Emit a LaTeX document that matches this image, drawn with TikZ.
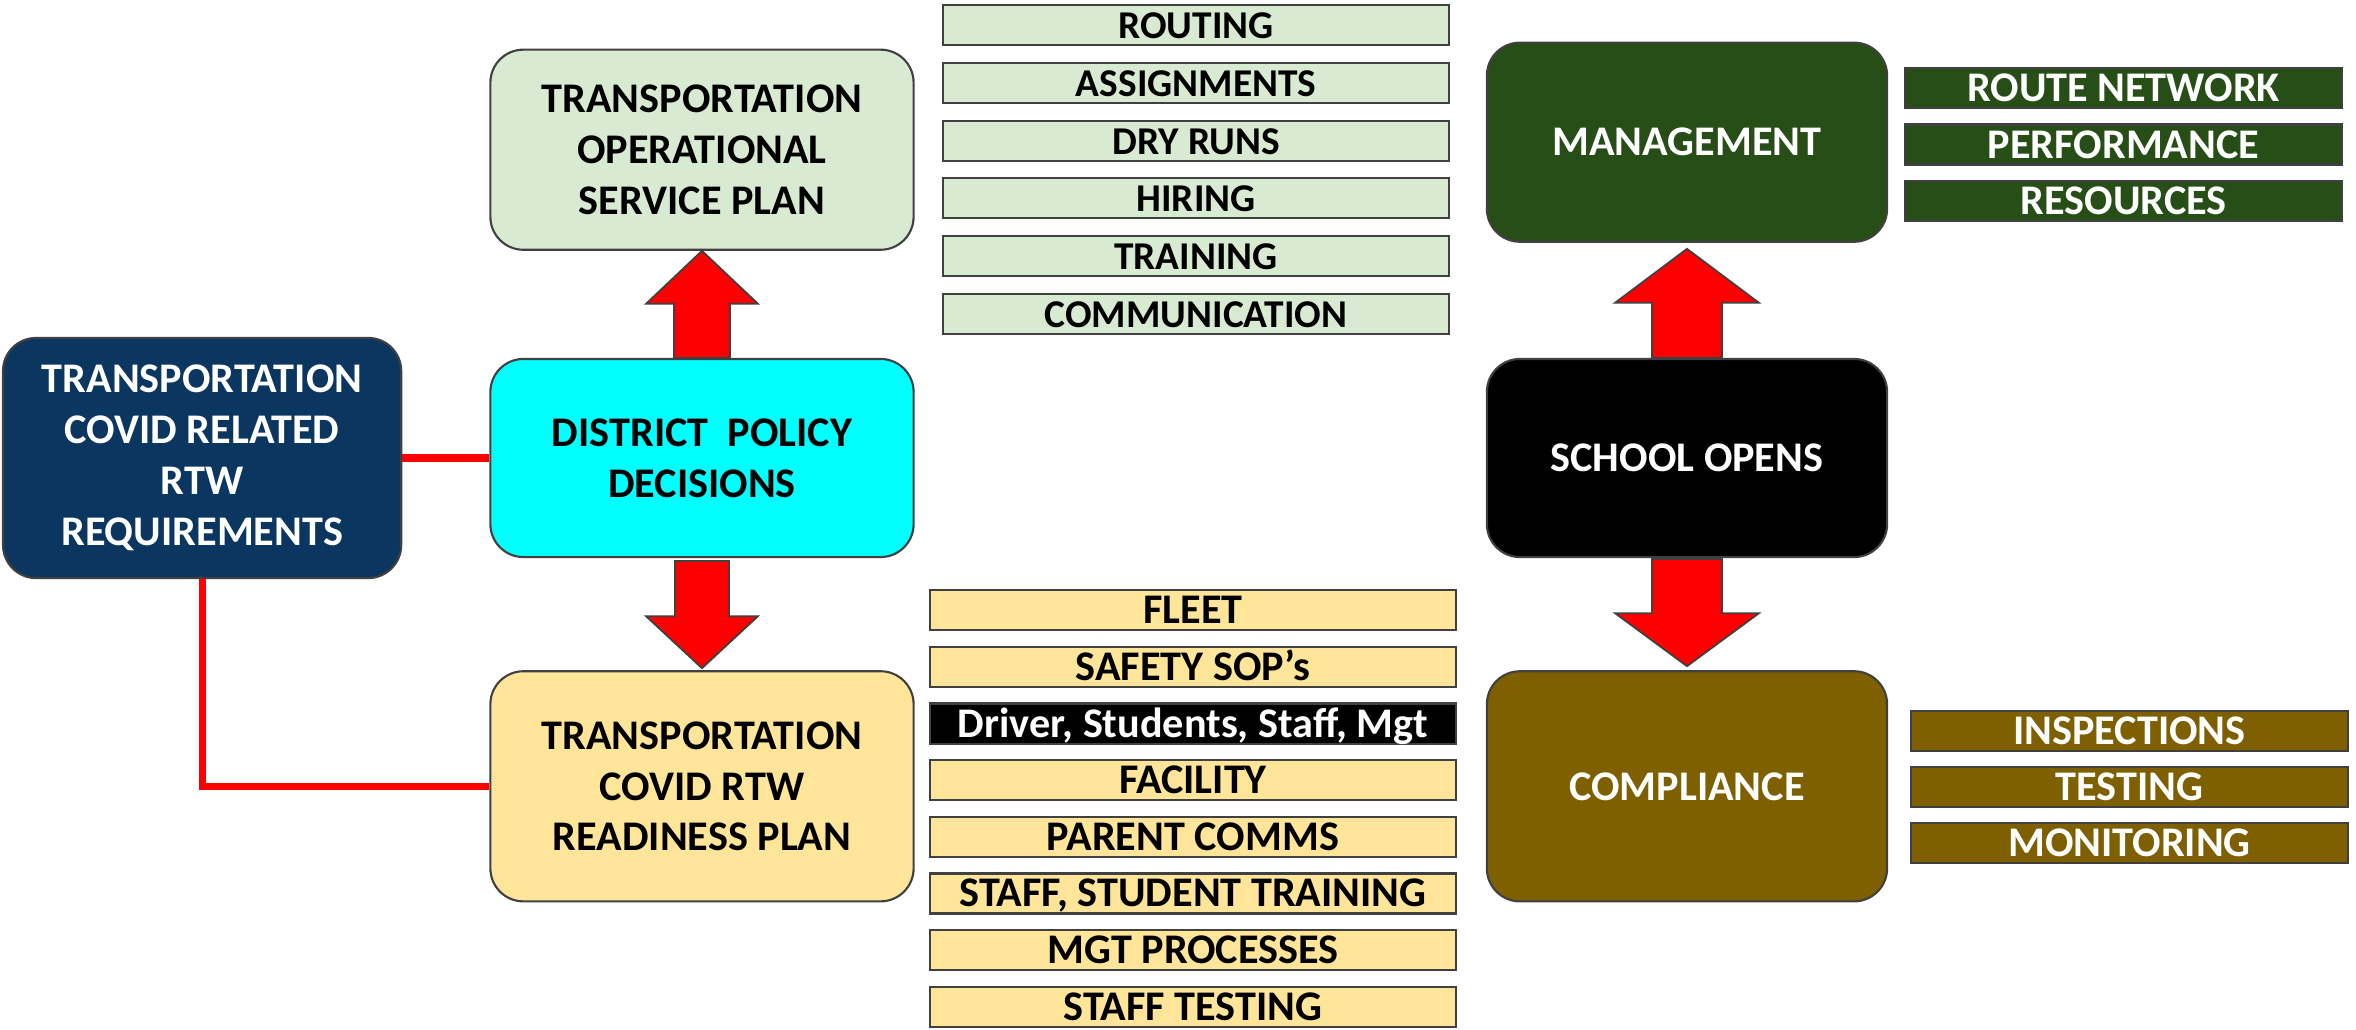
\documentclass[tikz,border=0pt]{standalone}
\usepackage{fontspec}
\setmainfont{Carlito}
\usepackage{xcolor}
\usepackage{tikz}
\usetikzlibrary{calc, matrix, positioning}

\definecolor{navy}{HTML}{0B3660}
\definecolor{policycyan}{HTML}{00FFFF}
\definecolor{palegreen}{HTML}{D9EAD3}
\definecolor{paleyellow}{HTML}{FFE599}
\definecolor{mgtgreen}{HTML}{284E17}
\definecolor{darkolive}{HTML}{7F6000}
\definecolor{edge}{HTML}{404040}
\definecolor{arrowred}{HTML}{FF0000}

\tikzstyle{bigbox}=[rectangle, rounded corners=0.33cm, draw=edge, line width=0.6pt, align=center, inner sep=0pt]
\tikzstyle{listbox}=[rectangle, draw=edge, line width=0.6pt, minimum height=0.40cm, inner sep=0pt, text height=0.27cm, text depth=0pt]
\tikzstyle{blockarrow}=[fill=arrowred, draw=edge, line width=0.5pt]
\tikzstyle{redline}=[draw=arrowred, line width=2pt]

\begin{document}
\begin{tikzpicture}[x=0.01cm, y=-0.01cm]

\tikzset{every node/.style={font=\bfseries\fontsize{12pt}{14.5pt}\selectfont}}

\useasboundingbox (0,0) rectangle (2356,1030);

% Policy column
\node[bigbox, fill=policycyan, minimum width=4.23cm, minimum height=1.98cm] (dp) at (702,458) {DISTRICT\ \ POLICY\\DECISIONS};
\node[bigbox, fill=palegreen, minimum width=4.23cm, minimum height=2.0cm, above=1.07cm of dp] (osp) {TRANSPORTATION\\OPERATIONAL\\SERVICE PLAN};
\node[bigbox, fill=paleyellow, minimum width=4.23cm, minimum height=2.3cm, below=1.12cm of dp] (rp) {TRANSPORTATION\\COVID RTW\\READINESS PLAN};
\node[bigbox, fill=navy, text=white, minimum width=3.98cm, minimum height=2.4cm, left=0.87cm of dp] (req) {TRANSPORTATION\\COVID RELATED\\RTW\\REQUIREMENTS};

% School column
\node[bigbox, fill=black, text=white, minimum width=4.0cm, minimum height=1.98cm] (so) at (1687,458) {SCHOOL OPENS};
\node[bigbox, fill=mgtgreen, text=white, minimum width=4.0cm, minimum height=1.99cm, above=1.15cm of so] (mg) {MANAGEMENT};
\node[bigbox, fill=darkolive, text=white, minimum width=4.0cm, minimum height=2.3cm, below=1.12cm of so] (cp) {COMPLIANCE};

% Service plan items
\matrix (opsl) [
    ampersand replacement=\&,
    matrix of nodes,
    row sep=0.155cm,
    nodes={listbox, fill=palegreen, minimum width=5.05cm, font=\bfseries\fontsize{11.2pt}{13pt}\selectfont},
] at (1196,169.5)
{
    ROUTING \\
    ASSIGNMENTS \\
    DRY RUNS \\
    HIRING \\
    TRAINING \\
    COMMUNICATION \\
};

% Readiness plan items
\matrix (rpl) [
    ampersand replacement=\&,
    matrix of nodes,
    row sep=0.145cm,
    nodes={listbox, fill=paleyellow, minimum width=5.26cm},
] at (1193,808.5)
{
    FLEET \\
    SAFETY SOP’s \\
    |[fill=black, text=white]| Driver, Students, Staff, Mgt \\
    FACILITY \\
    PARENT COMMS \\
    STAFF, STUDENT TRAINING \\
    MGT PROCESSES \\
    STAFF TESTING \\
};

% Management items
\matrix (mgl) [
    ampersand replacement=\&,
    matrix of nodes,
    row sep=0.14cm,
    nodes={listbox, fill=mgtgreen, text=white, minimum width=4.37cm},
] at (2123.5,144.5)
{
    ROUTE NETWORK \\
    PERFORMANCE \\
    RESOURCES \\
};

% Compliance items
\matrix (cpl) [
    ampersand replacement=\&,
    matrix of nodes,
    row sep=0.14cm,
    nodes={listbox, fill=darkolive, text=white, minimum width=4.37cm},
] at (2129.5,787)
{
    INSPECTIONS \\
    TESTING \\
    MONITORING \\
};

% Requirement links
\draw[redline] (req.east) -- (dp.west); % requirements -> policy
\draw[redline] (req.south) |- (rp.west); % requirements -> readiness plan

% Block arrows
\draw[blockarrow] ($(dp.north)+(-28,0)$) -- ($(osp.south)+(-28,53)$) -- ($(osp.south)+(-56,53)$) -- (osp.south)
    -- ($(osp.south)+(56,53)$) -- ($(osp.south)+(28,53)$) -- ($(dp.north)+(28,0)$) -- cycle; % policy -> service plan
\draw[blockarrow] ($(dp.south)+(-27,3)$) -- ($(rp.north)+(-27,-54)$) -- ($(rp.north)+(-56,-54)$) -- ($(rp.north)+(0,-2)$)
    -- ($(rp.north)+(56,-54)$) -- ($(rp.north)+(27,-54)$) -- ($(dp.south)+(27,3)$) -- cycle; % policy -> readiness plan
\draw[blockarrow] ($(so.north)+(-35,0)$) -- ($(mg.south)+(-35,60)$) -- ($(mg.south)+(-72,60)$) -- ($(mg.south)+(0,6)$)
    -- ($(mg.south)+(72,60)$) -- ($(mg.south)+(35,60)$) -- ($(so.north)+(35,0)$) -- cycle; % school opens -> management
\draw[blockarrow] ($(so.south)+(-35,1)$) -- ($(cp.north)+(-35,-57)$) -- ($(cp.north)+(-72,-57)$) -- ($(cp.north)+(0,-4)$)
    -- ($(cp.north)+(72,-57)$) -- ($(cp.north)+(35,-57)$) -- ($(so.south)+(35,1)$) -- cycle; % school opens -> compliance

\end{tikzpicture}
\end{document}
